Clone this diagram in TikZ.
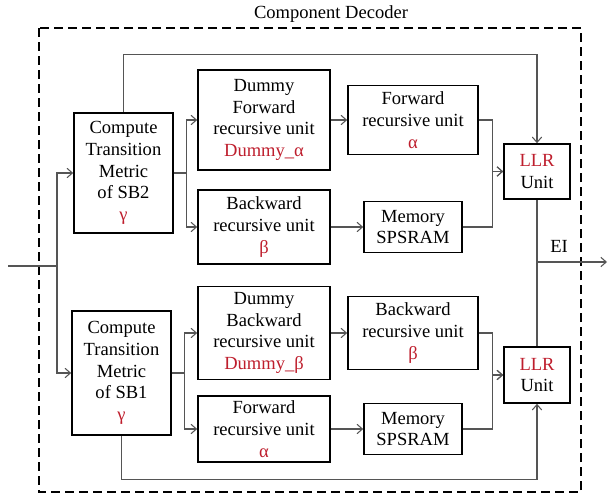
\documentclass[tikz,border=0pt]{standalone}
\usepackage{fontspec}
\setmainfont{Liberation Serif}
\usetikzlibrary{arrows.meta}

\definecolor{symred}{RGB}{190,30,45}
\definecolor{wiregray}{RGB}{85,85,85}
\newcommand{\sym}[1]{\textcolor{symred}{#1}}

\begin{document}
\begin{tikzpicture}[x=0.75pt, y=-0.75pt, >={Straight Barb[length=4pt,width=7pt]},
    txt/.style={font=\fontsize{13.9}{16.3}\selectfont},
    blk/.style={txt, draw, line width=1.2pt, inner sep=0pt, align=center},
    sz/.style 2 args={minimum width=#1*0.75pt, minimum height=#2*0.75pt},
    wire/.style={draw=wiregray, line width=0.8pt}]
    \useasboundingbox (0,0) rectangle (615,496);

    % decoder frame
    \node[txt] (title) at (331,14) {Component Decoder};
    \draw[line width=1.3pt, dash pattern=on 7pt off 3.5pt] (39,28) rectangle (581,492);

    % upper half (SB2)
    \node[blk, sz={99}{120}] (sb2) at (123.5,173)
        {Compute\\Transition\\Metric\\of SB2\\\sym{γ}};
    \node[blk, sz={132}{100}] (dfw) at (264,120)
        {Dummy\\Forward\\recursive unit\\\sym{Dummy\_α}};
    \node[blk, sz={132}{74}] (bw1) at (264,227)
        {Backward\\recursive unit\\\sym{β}};
    \node[blk, sz={130}{69}] (fw1) at (413,120)
        {Forward\\recursive unit\\\sym{α}};
    \node[blk, sz={98}{51}] (mem1) at (413,227)
        {Memory\\SPSRAM};
    \node[blk, sz={66}{55}] (llr1) at (537,171.5)
        {\sym{LLR}\\Unit};

    % lower half (SB1)
    \node[blk, sz={99}{124}] (sb1) at (121.5,373)
        {Compute\\Transition\\Metric\\of SB1\\\sym{γ}};
    \node[blk, sz={132}{93}] (dbw) at (264,333)
        {Dummy\\Backward\\recursive unit\\\sym{Dummy\_β}};
    \node[blk, sz={132}{66}] (fw2) at (264,429)
        {Forward\\recursive unit\\\sym{α}};
    \node[blk, sz={130}{73}] (bw2) at (413,333)
        {Backward\\recursive unit\\\sym{β}};
    \node[blk, sz={98}{51}] (mem2) at (413,429)
        {Memory\\SPSRAM};
    \node[blk, sz={66}{56}] (llr2) at (537,375)
        {\sym{LLR}\\Unit};

    % input split
    \coordinate (in) at (8,266);
    \coordinate (split) at (57,266);
    \draw[wire] (in) -- (split);
    \draw[wire,->] (split) |- (sb2.west);
    \draw[wire,->] (split) |- (sb1.west);

    % upper connections
    \draw[wire,->] (sb2.east) -- ++(13,0) |- (dfw.west);
    \draw[wire,->] (sb2.east) -- ++(13,0) |- (bw1.west);
    \draw[wire,->] (dfw) -- (fw1);
    \draw[wire,->] (bw1) -- (mem1);
    \draw[wire,->] (fw1.east) -- ++(14,0) |- (llr1.west);
    \draw[wire,->] (mem1.east) -- ++(30,0) |- (llr1.west);
    \draw[wire,->] (sb2.north) -- ++(0,-58) -| (llr1.north);

    % lower connections
    \draw[wire,->] (sb1.east) -- ++(13,0) |- (dbw.west);
    \draw[wire,->] (sb1.east) -- ++(13,0) |- (fw2.west);
    \draw[wire,->] (dbw) -- (bw2);
    \draw[wire,->] (fw2) -- (mem2);
    \draw[wire,->] (bw2.east) -- ++(14,0) |- (llr2.west);
    \draw[wire,->] (mem2.east) -- ++(30,0) |- (llr2.west);
    \draw[wire,->] (sb1.south) -- ++(0,44) -| (llr2.south);

    % extrinsic output
    \coordinate (ei) at (537,262);
    \coordinate (out) at (607,262);
    \draw[wire] (llr1.south) -- (llr2.north);
    \draw[wire,->] (ei) -- (out);
    \node[txt] (eilabel) at (559,246) {EI};
\end{tikzpicture}
\end{document}
